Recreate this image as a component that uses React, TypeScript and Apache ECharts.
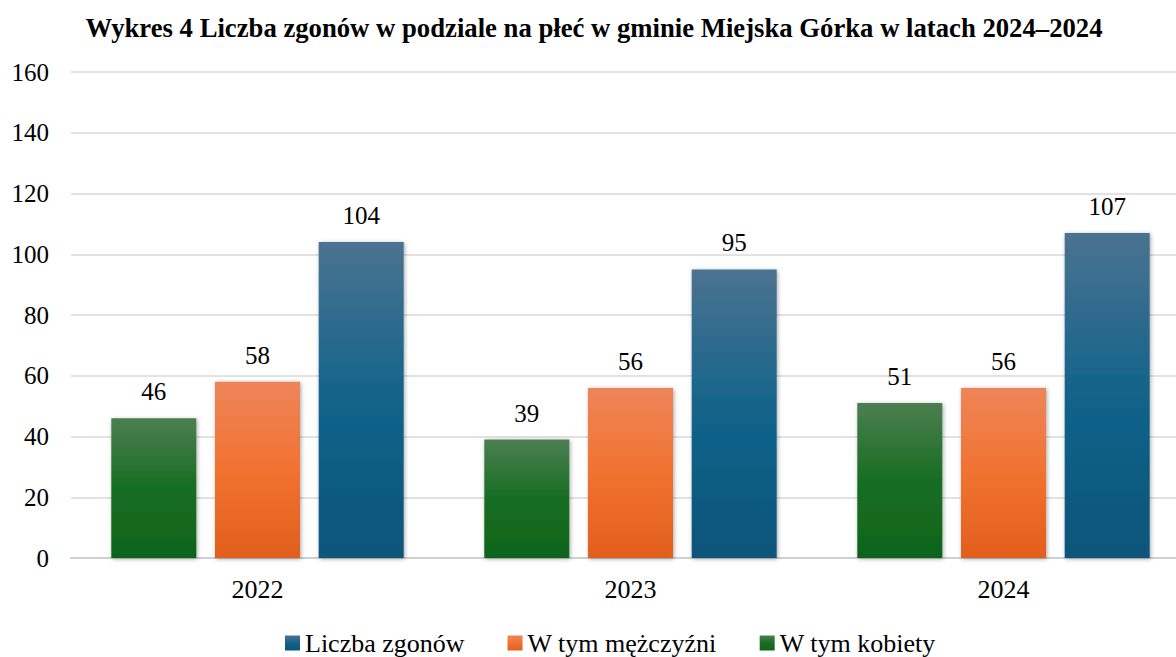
import React, { useEffect, useRef } from "react";
import * as echarts from "echarts";

const title = "Wykres 4 Liczba zgonów w podziale na płeć w gminie Miejska Górka w latach 2024–2024";
const categories = ["2022", "2023", "2024"];
const kobiety = [46, 39, 51];
const mezczyzni = [58, 56, 56];
const zgony = [104, 95, 107];
const seriesNames = ["W tym kobiety", "W tym mężczyźni", "Liczba zgonów"];
const legendOrder = ["Liczba zgonów", "W tym mężczyźni", "W tym kobiety"];

const FONT = "'Liberation Serif', 'Times New Roman', serif";

function grad(top: string, mid: string, bottom: string) {
  return new echarts.graphic.LinearGradient(0, 0, 0, 1, [
    { offset: 0, color: top },
    { offset: 0.5, color: mid },
    { offset: 1, color: bottom },
  ]);
}

export default function App() {
  const ref = useRef<HTMLDivElement>(null);
  useEffect(() => {
    if (!ref.current) return;
    const chart = echarts.init(ref.current, undefined, { renderer: "svg" });
    const mkSeries = (name: string, data: number[], color: any) => ({
      name,
      type: "bar",
      data,
      barWidth: 85,
      barGap: "22%",
      itemStyle: {
        color,
        shadowBlur: 4,
        shadowColor: "rgba(0,0,0,0.35)",
        shadowOffsetX: 1,
        shadowOffsetY: 1,
      },
      label: {
        show: true,
        position: "top",
        distance: 14,
        fontFamily: FONT,
        fontSize: 25,
        color: "#000",
      },
      emphasis: { disabled: true },
    });
    chart.setOption({
      animation: false,
      backgroundColor: "#fff",
      color: ["#176e22", "#f17230", "#14668a"],
      title: {
        text: title,
        left: 589,
        textAlign: "center",
        top: 9,
        textStyle: { fontFamily: FONT, fontSize: 26.7, fontWeight: "bold", color: "#000" },
      },
      legend: {
        data: legendOrder,
        left: 280,
        top: 625,
        itemWidth: 15,
        itemHeight: 15,
        itemGap: 43,
        icon: "rect",
        textStyle: { fontFamily: FONT, fontSize: 26, color: "#000" },
      },
      grid: { left: 71, right: 10, top: 72, bottom: 99, containLabel: false },
      xAxis: {
        type: "category",
        data: categories,
        axisLine: { show: true, lineStyle: { color: "#d0d0d0", width: 2 } },
        axisTick: { show: false },
        axisLabel: { fontFamily: FONT, fontSize: 26, color: "#000", margin: 18 },
      },
      yAxis: {
        type: "value",
        min: 0,
        max: 160,
        interval: 20,
        axisLine: { show: false },
        axisTick: { show: false },
        splitLine: { lineStyle: { color: "#d9d9d9", width: 1.5 } },
        axisLabel: { fontFamily: FONT, fontSize: 25, color: "#000", margin: 22 },
      },
      series: [
        mkSeries(seriesNames[0], kobiety, grad("#4c7e50", "#176e22", "#0f641b")),
        mkSeries(seriesNames[1], mezczyzni, grad("#ee855a", "#f17230", "#e15f1c")),
        mkSeries(seriesNames[2], zgony, grad("#4b7390", "#12638a", "#0b5479")),
      ],
    });
    return () => chart.dispose();
  }, []);
  return (
    <div style={{ position: "fixed", left: 0, top: 0, width: 1176, height: 657, overflow: "hidden" }}>
      <div ref={ref} style={{ width: 1200, height: 657 }} />
    </div>
  );
}
